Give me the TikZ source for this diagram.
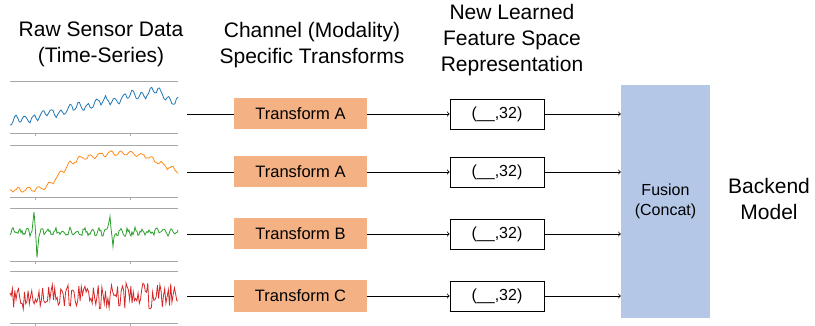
\documentclass[tikz,border=0pt]{standalone}
\usepackage{fontspec}
\setmainfont{Liberation Sans}
\definecolor{tfill}{HTML}{F4B183}
\definecolor{ffill}{HTML}{B4C7E7}
\definecolor{tsblue}{HTML}{1F77B4}
\definecolor{tsorange}{HTML}{FF8C1A}
\definecolor{tsgreen}{HTML}{2CA02C}
\definecolor{tsred}{HTML}{D62728}
\tikzset{
  title/.style={align=center, font=\fontsize{21}{26}\selectfont},
  transform/.style={fill=tfill, minimum width=133pt, minimum height=31pt, font=\fontsize{16.5}{18}\selectfont},
  feature/.style={draw, line width=0.8pt, minimum width=94pt, minimum height=30pt, font=\fontsize{16}{18}\selectfont},
  axisline/.style={black!35, line width=0.8pt},
  wire/.style={line width=0.8pt},
}
\begin{document}
\begin{tikzpicture}[x=1pt, y=-1pt]
\useasboundingbox (0,0) rectangle (815,326);
% column titles
\node[title] (rawtitle) at (101,44) {Raw Sensor Data\\(Time-Series)};
\node[title] (chtitle) at (312,45) {Channel (Modality)\\Specific Transforms};
\node[title] (feattitle) at (512,40) {New Learned\\Feature Space\\Representation};
\node[title] (backend) at (769,199) {Backend\\Model};
% time series panels
\draw[axisline] (10,81) -- (178,81);
\draw[axisline] (10,133) -- (178,133) (35,133) -- (35,136) (130,133) -- (130,136);
\draw[axisline] (10,145) -- (178,145);
\draw[axisline] (10,197) -- (178,197) (35,197) -- (35,200) (130,197) -- (130,200);
\draw[axisline] (10,208) -- (178,208);
\draw[axisline] (10,261) -- (178,261) (35,261) -- (35,264) (130,261) -- (130,264);
\draw[axisline] (10,271) -- (178,271);
\draw[axisline] (10,323) -- (178,323) (35,323) -- (35,326) (130,323) -- (130,326);
\pgfmathsetseed{11}
\draw[tsblue, line width=0.8pt, domain=10:178, samples=110] plot (\x, {122 - 36*((\x-10)/168) + 16*max(0,(\x-155)/23) + 3.5*sin(40*\x) + 2*sin(13*\x+30) + 1.2*rand});
\pgfmathsetseed{5}
\draw[tsorange, line width=0.8pt, domain=10:178, samples=110] plot (\x, {190 - 32/(1+exp(-(\x-60)/7)) - 5*exp(-((\x-120)/30)^2) + 13*max(0,(\x-145)/33) + 2.2*sin(35*\x) + 1.0*rand});
\pgfmathsetseed{3}
\draw[tsgreen, line width=0.8pt, domain=10:178, samples=169] plot (\x, {232 + 2.5*rand + 2.5*sin(50*\x) - 18*max(0,1-abs(\x-34)/2.5) + 22*max(0,1-abs(\x-37)/2.5) - 17*max(0,1-abs(\x-110)/2.5) + 15*max(0,1-abs(\x-113)/2.5)});
\pgfmathsetseed{9}
\draw[tsred, line width=0.8pt, domain=10:178, samples=140] plot (\x, {296 + 13*rand});
% transforms
\node[transform] (t1) at (300.5,114) {Transform A};
\node[transform] (t2) at (300.5,172) {Transform A};
\node[transform] (t3) at (300.5,234) {Transform B};
\node[transform] (t4) at (300.5,296) {Transform C};
% learned features
\node[feature] (f1) at (497,114) {(\_\_,32)};
\node[feature] (f2) at (497,172) {(\_\_,32)};
\node[feature] (f3) at (497,234) {(\_\_,32)};
\node[feature] (f4) at (497,296) {(\_\_,32)};
% fusion block
\node[fill=ffill, minimum width=89pt, minimum height=233pt, align=center, font=\fontsize{16}{20}\selectfont] (fusion) at (665.5,201.5) {Fusion\\(Concat)};
% wires
\coordinate (s1) at (187,114);
\coordinate (s2) at (187,172);
\coordinate (s3) at (187,234);
\coordinate (s4) at (187,296);
\draw[wire] (s1) -- (t1);
\draw[wire] (s2) -- (t2);
\draw[wire] (s3) -- (t3);
\draw[wire] (s4) -- (t4);
\draw[wire, ->] (t1) -- (f1);
\draw[wire, ->] (t2) -- (f2);
\draw[wire, ->] (t3) -- (f3);
\draw[wire, ->] (t4) -- (f4);
\draw[wire, ->] (f1) -- (f1 -| fusion.west);
\draw[wire, ->] (f2) -- (f2 -| fusion.west);
\draw[wire, ->] (f3) -- (f3 -| fusion.west);
\draw[wire, ->] (f4) -- (f4 -| fusion.west);
\end{tikzpicture}
\end{document}
